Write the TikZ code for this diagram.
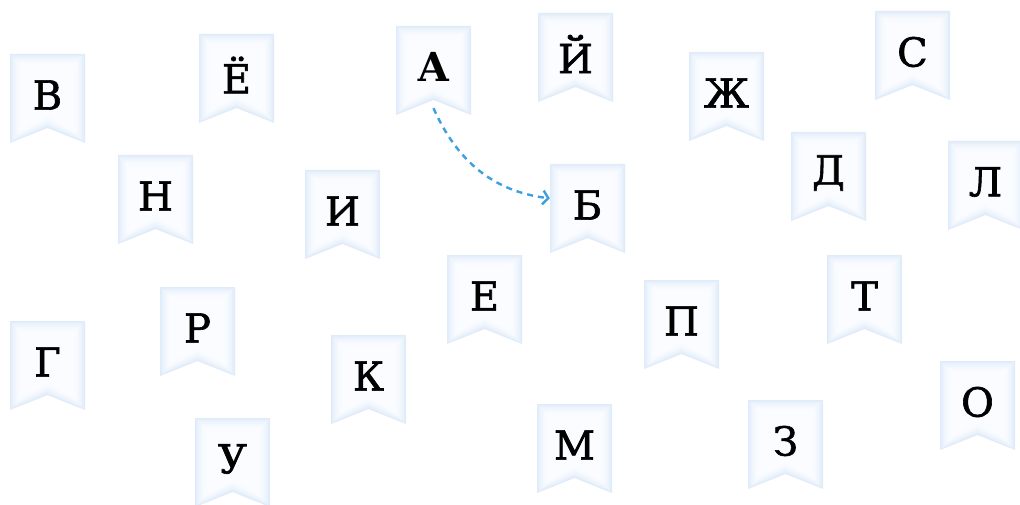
\documentclass[tikz,border=0pt]{standalone}
\usepackage{fontspec}
\setmainfont{DejaVu Serif}
\newfontfamily\lblfont[FakeBold=1.5]{DejaVu Serif}
\usetikzlibrary{arrows.meta}
\definecolor{bannerEdge}{RGB}{224,235,249}
\definecolor{bannerIn}{RGB}{250,252,255}
\definecolor{arrowBlue}{RGB}{58,160,224}
\tikzset{
  lbl/.style={minimum width=75pt, minimum height=82pt, inner sep=0pt,
    font=\lblfont\fontsize{40}{44}\selectfont, text=black},
  startlbl/.style={lbl, font=\fontsize{40}{44}\selectfont\bfseries},
  arr/.style={draw=arrowBlue, line width=2.4pt, dash pattern=on 6pt off 5pt,
    -{Straight Barb[length=5.5pt,width=14pt]}},
}
\newcommand\bnrshape[2]{%
  \foreach \d in {0,1,...,11}{
    \pgfmathsetmacro\p{100*(1-\d/12)^2}
    \fill[bannerEdge!\p!bannerIn] (#1+\d,#2+\d) -- (#1+75-\d,#2+\d)
      -- (#1+75-\d,#2+89-1.08*\d) -- (#1+37.5,#2+74-1.08*\d)
      -- (#1+\d,#2+89-1.08*\d) -- cycle;}}
\newcommand\bnr[5][lbl]{% style, name, left, top, text
  \bnrshape{#3}{#4}
  \node[#1] (#2) at (#3+37.5,#4+41) {#5};}
\begin{document}
\begin{tikzpicture}[x=1pt,y=-1pt]
\useasboundingbox (0,0) rectangle (1020,505);
\bnr{v}{10}{54}{В}
\bnr{yo}{199}{34}{Ё}
\bnr[startlbl]{a}{396}{26}{А}
\bnr{yi}{538}{13}{Й}
\bnr{zh}{689}{52}{Ж}
\bnr{s}{875}{11}{С}
\bnr{n}{118}{155}{Н}
\bnr{i}{305}{170}{И}
\bnr{b}{550}{164}{Б}
\bnr{d}{791}{132}{Д}
\bnr{l}{948}{141}{Л}
\bnr{e}{447}{255}{Е}
\bnr{p}{644}{280}{П}
\bnr{t}{827}{255}{Т}
\bnr{g}{10}{321}{Г}
\bnr{r}{160}{287}{Р}
\bnr{k}{331}{335}{К}
\bnr{u}{195}{418}{У}
\bnr{m}{537}{404}{М}
\bnr{z}{748}{400}{З}
\bnr{o}{940}{361}{О}
\draw[arr] (a.south) to[out=-66,in=173] (b.170);
\end{tikzpicture}
\end{document}
